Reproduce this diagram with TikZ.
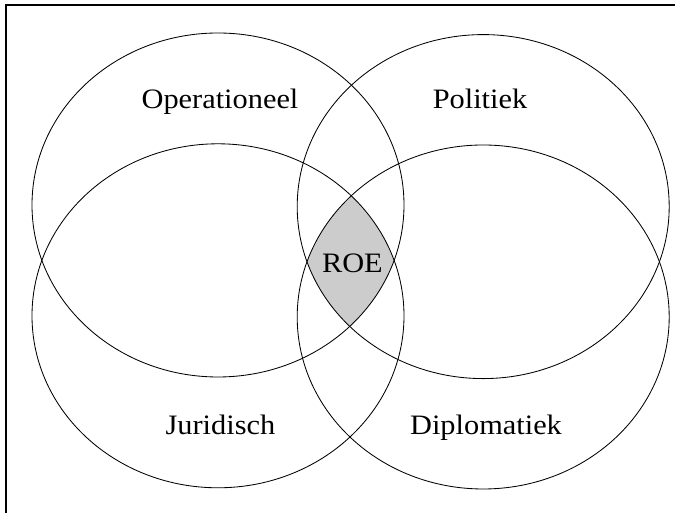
\documentclass[tikz,border=0pt]{standalone}
\usepackage{fontspec}
\setmainfont{Liberation Serif}[FakeStretch=1.08]

\tikzset{
    kring/.style={draw, line width=0.6pt},
    label/.style={font=\fontsize{20}{24}\selectfont, anchor=base, inner sep=0pt}
}

\begin{document}
\begin{tikzpicture}
            \useasboundingbox (0, 0) rectangle (16.875, 12.825);
            \clip (0, 0) rectangle (16.875, 12.825);
            \draw[line width=1.3pt] (0.15, -1) rectangle (18, 12.69);

            \coordinate (op) at (5.45, 7.7);
            \coordinate (pol) at (12.08, 7.66);
            \coordinate (jur) at (5.45, 4.93);
            \coordinate (dip) at (12.08, 4.9);

            % overlap of all four
            \begin{scope}
                \clip (op) ellipse [x radius=4.65, y radius=4.3];
                \clip (pol) ellipse [x radius=4.65, y radius=4.3];
                \clip (jur) ellipse [x radius=4.65, y radius=4.3];
                \fill[gray!40] (dip) ellipse [x radius=4.65, y radius=4.3];
            \end{scope}

            \draw[kring] (op) ellipse [x radius=4.65, y radius=4.3];
            \draw[kring] (pol) ellipse [x radius=4.65, y radius=4.3];
            \draw[kring] (jur) ellipse [x radius=4.65, y radius=4.3];
            \draw[kring] (dip) ellipse [x radius=4.65, y radius=4.3];

            \node[label] (operationeel) at (5.5, 10.1) {Operationeel};
            \node[label] (politiek) at (12.0, 10.1) {Politiek};
            \node[label] (roe) at (8.81, 6.0) {ROE};
            \node[label] (juridisch) at (5.51, 1.97) {Juridisch};
            \node[label] (diplomatiek) at (12.15, 1.97) {Diplomatiek};
        \end{tikzpicture}
\end{document}
